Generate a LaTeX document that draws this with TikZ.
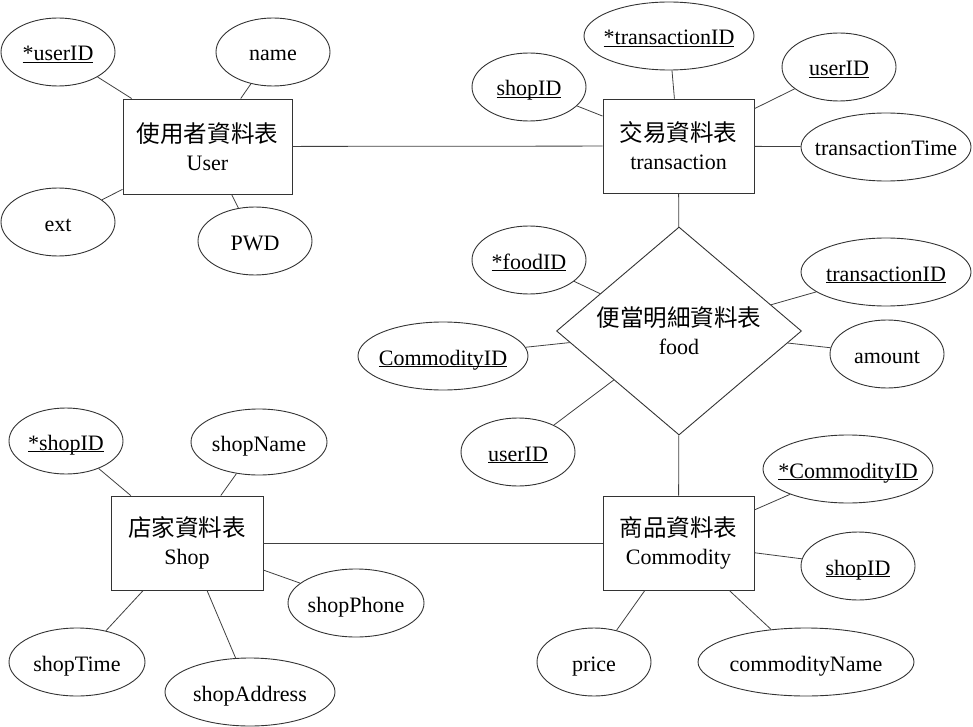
\documentclass[tikz,border=0pt]{standalone}
\usepackage{fontspec}
\setmainfont{Liberation Serif}
\newfontfamily\cjk{Noto Sans CJK TC}[Scale=1.07]
\usetikzlibrary{shapes.geometric}
\newcommand\myul[1]{\setbox0\hbox{#1}\rlap{\rule[-2pt]{\wd0}{0.9pt}}\box0}
\begin{document}
\begin{tikzpicture}[x=1pt,y=-1pt,
  base/.style={font=\fontsize{22}{28}\selectfont, draw=black!80, line width=0.9pt},
  entity/.style={base, rectangle, inner sep=0pt, align=center},
  rel/.style={base, diamond, aspect=1.18, inner sep=0pt, minimum width=245pt, minimum height=208pt, align=center},
  attr/.style={base, ellipse, inner sep=0pt, minimum height=68pt, text height=20pt, text depth=2pt},
  sm/.style={attr, minimum width=114pt},
  md/.style={attr, minimum width=136pt},
  lg/.style={attr, minimum width=170pt},
  conn/.style={draw=black!75, line width=0.8pt}]
\useasboundingbox (0,0) rectangle (973,727);
% entities
\node[entity, minimum width=169pt, minimum height=95pt] (user) at (207.5,146.5) {{\cjk 使用者資料表}\\User};
\node[entity, minimum width=151pt, minimum height=94pt] (trans) at (678.5,146) {{\cjk 交易資料表}\\transaction};
\node[entity, minimum width=152pt, minimum height=94pt] (shop) at (187,543) {{\cjk 店家資料表}\\Shop};
\node[entity, minimum width=151pt, minimum height=94pt] (comm) at (678.5,543) {{\cjk 商品資料表}\\Commodity};
\node[rel] (food) at (679,331) {{\cjk 便當明細資料表}\\food};
% user attributes
\node[sm] (uid) at (58,52) {\makebox[0pt]{\myul{*userID}}};
\node[sm] (uname) at (273,52) {\makebox[0pt]{name}};
\node[sm] (uext) at (58,222) {\makebox[0pt]{ext}};
\node[sm] (upwd) at (255,241) {\makebox[0pt]{PWD}};
% transaction attributes
\node[sm] (tshop) at (529,87) {\makebox[0pt]{\myul{shopID}}};
\node[lg] (tid) at (669,36) {\makebox[0pt]{\myul{*transactionID}}};
\node[sm] (tuser) at (839,67) {\makebox[0pt]{\myul{userID}}};
\node[lg] (ttime) at (886,147) {\makebox[0pt]{transactionTime}};
% food attributes
\node[sm] (ffood) at (529,260) {\makebox[0pt]{\myul{*foodID}}};
\node[lg] (ftid) at (886,272) {\makebox[0pt]{\myul{transactionID}}};
\node[lg] (fcid) at (443,356) {\makebox[0pt]{\myul{CommodityID}}};
\node[sm] (famt) at (887,354) {\makebox[0pt]{amount}};
\node[sm] (fuser) at (518,452) {\makebox[0pt]{\myul{userID}}};
% shop attributes
\node[sm, minimum height=66pt] (sid) at (66,441) {\makebox[0pt]{\myul{*shopID}}};
\node[md, minimum height=66pt] (sname) at (259,442) {\makebox[0pt]{shopName}};
\node[md] (sphone) at (356,603) {\makebox[0pt]{shopPhone}};
\node[md] (stime) at (77,662) {\makebox[0pt]{shopTime}};
\node[lg] (saddr) at (250,692) {\makebox[0pt]{shopAddress}};
% commodity attributes
\node[lg] (cid) at (848,469) {\makebox[0pt]{\myul{*CommodityID}}};
\node[sm] (cshop) at (858,566) {\makebox[0pt]{\myul{shopID}}};
\node[sm] (cprice) at (594,662) {\makebox[0pt]{price}};
\node[attr, minimum width=216pt] (cname) at (806,662) {\makebox[0pt]{commodityName}};
% connectors
\draw[conn] (user) -- (trans);
\draw[conn] (trans) -- (food);
\draw[conn] (food) -- (comm);
\draw[conn] (shop) -- (comm);
\foreach \a in {uid,uname,uext,upwd} \draw[conn] (\a) -- (user);
\foreach \a in {tshop,tid,tuser,ttime} \draw[conn] (\a) -- (trans);
\foreach \a in {ffood,ftid,fcid,famt,fuser} \draw[conn] (\a) -- (food);
\foreach \a in {sid,sname,sphone,stime,saddr} \draw[conn] (\a) -- (shop);
\foreach \a in {cid,cshop,cprice,cname} \draw[conn] (\a) -- (comm);
\end{tikzpicture}
\end{document}
